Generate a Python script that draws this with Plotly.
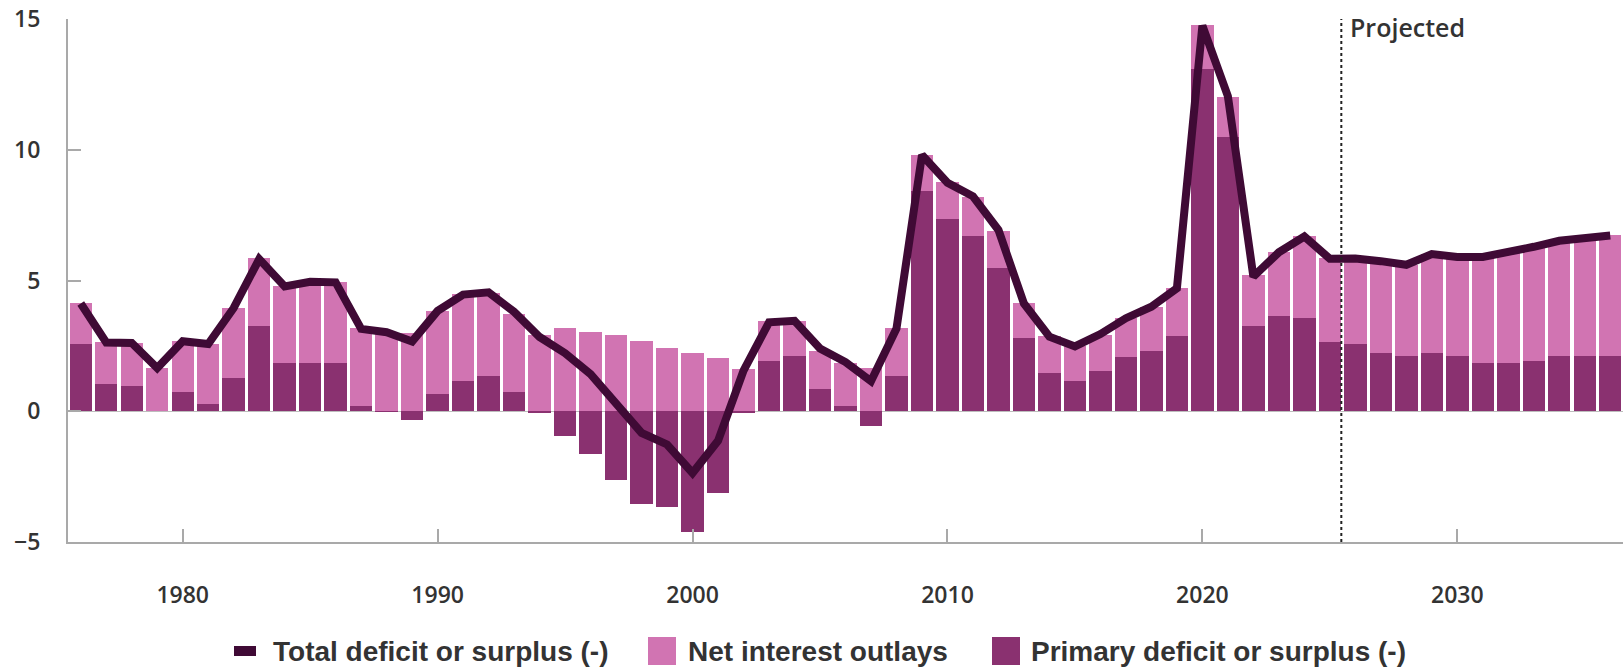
import plotly.graph_objects as go

years = list(range(1976, 2037))

primary = [2.57, 1.05, 0.97, 0.0, 0.73, 0.29, 1.28, 3.27, 1.86, 1.86,
           1.86, 0.19, 0.02, -0.34, 0.67, 1.17, 1.33, 0.73, -0.06, -0.95,
           -1.63, -2.62, -3.54, -3.67, -4.60, -3.14, -0.06, 1.93, 2.10, 0.87,
           0.19, -0.56, 1.35, 8.42, 7.37, 6.69, 5.47, 2.79, 1.48, 1.17,
           1.55, 2.09, 2.31, 2.86, 13.09, 10.50, 3.25, 3.63, 3.56, 2.64,
           2.57, 2.24, 2.10, 2.24, 2.10, 1.86, 1.86, 1.93, 2.10, 2.10, 2.10]

interest = [1.58, 1.59, 1.64, 1.65, 1.95, 2.28, 2.67, 2.58, 2.93, 3.07,
            3.07, 2.99, 3.00, 2.99, 3.17, 3.30, 3.21, 3.00, 2.92, 3.18,
            3.02, 2.93, 2.69, 2.41, 2.24, 2.03, 1.63, 1.53, 1.36, 1.45,
            1.67, 1.66, 1.83, 1.38, 1.39, 1.50, 1.43, 1.34, 1.40, 1.31,
            1.35, 1.47, 1.66, 1.86, 1.67, 1.50, 1.95, 2.45, 3.13, 3.22,
            3.27, 3.50, 3.50, 3.77, 3.80, 4.04, 4.22, 4.36, 4.42, 4.53, 4.64]

total = [4.12, 2.63, 2.61, 1.65, 2.68, 2.57, 3.95, 5.82, 4.77, 4.95,
         4.93, 3.15, 3.02, 2.67, 3.84, 4.46, 4.55, 3.80, 2.84, 2.22,
         1.42, 0.33, -0.83, -1.27, -2.36, -1.13, 1.55, 3.40, 3.46, 2.40,
         1.88, 1.15, 3.16, 9.80, 8.74, 8.22, 6.93, 4.12, 2.85, 2.48,
         2.95, 3.56, 4.00, 4.70, 14.75, 12.05, 5.15, 6.08, 6.68, 5.83,
         5.84, 5.74, 5.60, 6.01, 5.90, 5.90, 6.08, 6.29, 6.52, 6.63, 6.72]

x_ticks = [1980, 1990, 2000, 2010, 2020, 2030]
y_ticks = [-5, 0, 5, 10, 15]
projection_start = 2025.45
legend_labels = ["Total deficit or surplus (-)", "Net interest outlays",
                 "Primary deficit or surplus (-)"]

C_LINE = "#3F0A35"
C_PINK = "#D174B2"
C_DARK = "#8A3170"
AXIS = "#A9A9A9"
TXT = "#333333"

W, H = 1623, 668
ML, MR, MT, MB = 68, 0, 19, 126
PW, PH = W - ML - MR, H - MT - MB

fig = go.Figure()
fig.add_trace(go.Bar(x=years, y=primary, name=legend_labels[2], marker_color=C_DARK,
                     marker_line_width=0, width=0.88, showlegend=False))
fig.add_trace(go.Bar(x=years, y=interest, name=legend_labels[1], marker_color=C_PINK,
                     marker_line_width=0, width=0.88, showlegend=False))
fig.add_trace(go.Scatter(x=years, y=total, name=legend_labels[0], mode="lines",
                         line=dict(color=C_LINE, width=8), showlegend=False))

fig.add_shape(type="line", xref="x", yref="y", x0=projection_start, x1=projection_start,
              y0=-5, y1=15.1, line=dict(color="#222222", width=2, dash="dot"))
fig.add_annotation(x=projection_start, y=15.0, xref="x", yref="y", text="Projected",
                   showarrow=False, xanchor="left", yanchor="middle", xshift=7, yshift=-8,
                   font=dict(family="Open Sans", size=25, color=TXT, weight=600))


def px_x(p):
    return (p - ML) / PW


def px_y(p):
    return (H - MB - p) / PH


# custom legend
ly = 651
fig.add_shape(type="line", xref="paper", yref="paper", x0=px_x(234), x1=px_x(256),
              y0=px_y(ly), y1=px_y(ly), line=dict(color=C_LINE, width=10))
fig.add_shape(type="rect", xref="paper", yref="paper", x0=px_x(648), x1=px_x(676),
              y0=px_y(665), y1=px_y(637), fillcolor=C_PINK, line_width=0)
fig.add_shape(type="rect", xref="paper", yref="paper", x0=px_x(992), x1=px_x(1020),
              y0=px_y(665), y1=px_y(637), fillcolor=C_DARK, line_width=0)
leg_font = dict(family="Liberation Sans Narrow, Arial Narrow, Liberation Sans", size=28,
                color=TXT, weight=700)
for xpos, txt in zip([271, 686, 1029], legend_labels):
    fig.add_annotation(x=px_x(xpos), y=px_y(ly), xref="paper", yref="paper", text=txt,
                       showarrow=False, xanchor="left", yanchor="middle", font=leg_font)

tick_font = dict(family="Open Sans", size=23, color=TXT, weight=600)
fig.update_layout(
    width=W, height=H, barmode="relative", bargap=0,
    margin=dict(l=ML, r=MR, t=MT, b=MB),
    plot_bgcolor="white", paper_bgcolor="white",
    xaxis=dict(range=[1975.5, 2036.5], tickvals=x_ticks, ticks="inside", ticklen=13,
               tickwidth=2, tickcolor=AXIS, showline=True, linecolor=AXIS, linewidth=2,
               showgrid=False, zeroline=False, tickfont=tick_font, ticklabelstandoff=31),
    yaxis=dict(range=[-5, 15], tickvals=y_ticks, ticks="inside", ticklen=13, tickwidth=2,
               tickcolor=AXIS, showline=True, linecolor=AXIS, linewidth=2, showgrid=False,
               zeroline=True, zerolinecolor="#BDBDBD", zerolinewidth=1,
               tickfont=tick_font, ticklabelstandoff=21),
)

fig.write_html("out.html", config={"displayModeBar": False},
               post_script="document.body.style.margin='0';document.body.style.overflow='hidden';")
